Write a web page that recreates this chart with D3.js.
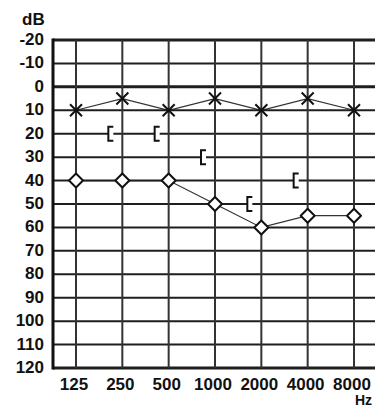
<!DOCTYPE html>
<html>
<head>
    <meta charset="utf-8"/>
    <title>Audiogram</title>
    <style>
        body {
            margin: 0;
            background-color: #fff;
            overflow: hidden;
        }
        svg {
            display: block;
        }
        .lbl {
            font-family: 'Liberation Sans', Arial, sans-serif;
            font-weight: bold;
            font-size: 17px;
            fill: #111;
        }
    </style>
    <script src="https://cdnjs.cloudflare.com/ajax/libs/d3/7.8.5/d3.min.js"></script>
</head>
<body>
    <svg id="viz" width="375" height="409"></svg>
<script>

const frequencies = [125, 250, 500, 1000, 2000, 4000, 8000];
const dbTicks = [-20, -10, 0, 10, 20, 30, 40, 50, 60, 70, 80, 90, 100, 110, 120];

// air conduction (X) and (O), bone conduction ([)
const airX = [10, 5, 10, 5, 10, 5, 10];
const airO = [40, 40, 40, 50, 60, 55, 55];
const boneFreqs = [250, 500, 1000, 2000, 4000];
const boneVals = [20, 20, 30, 50, 40];

const svg = d3.select("svg");

const x = d3.scaleLog().base(2).domain([125, 8000]).range([76, 354]);
const y = d3.scaleLinear().domain([-20, 120]).range([40, 368]);

const left = Math.round(x(125 / Math.SQRT2)),
      right = 380;

// axis labels
const labels = svg.append("g").attr("class", "labels");

labels.selectAll("text.ylab")
    .data(dbTicks)
    .join("text")
    .attr("class", "lbl ylab")
    .attr("x", 44)
    .attr("y", d => y(d) + 5)
    .attr("text-anchor", "end")
    .text(d => d < 0 ? "-" + Math.abs(d) : d);

labels.selectAll("text.xlab")
    .data(frequencies)
    .join("text")
    .attr("class", "lbl xlab")
    .attr("x", d => x(d) - 2)
    .attr("y", 390)
    .attr("text-anchor", "middle")
    .text(d => d);

labels.append("text").attr("class", "lbl").attr("x", 22).attr("y", 25).text("dB");
labels.append("text").attr("class", "lbl").attr("x", 355).attr("y", 405)
    .style("font-size", "14px").text("Hz");

// connecting lines
const line = d3.line().x(d => x(d[0])).y(d => y(d[1]));
const conn = svg.append("g").attr("fill", "none").attr("stroke", "#333").attr("stroke-width", 1.2);

conn.append("path").attr("d", line(frequencies.map((f, i) => [f, airX[i]])));
conn.append("path").attr("d", line(frequencies.map((f, i) => [f, airO[i]])));

// grid
const grid = svg.append("g").attr("class", "grid");

grid.selectAll("line.hgrid")
    .data(dbTicks)
    .join("line")
    .attr("class", "hgrid")
    .attr("x1", left).attr("x2", right)
    .attr("y1", d => y(d)).attr("y2", d => y(d))
    .attr("stroke", "#1e1e1e")
    .attr("stroke-width", d => (d == 0 || d == -20 || d == 120) ? 3 : 2);

grid.selectAll("line.vgrid")
    .data(frequencies)
    .join("line")
    .attr("class", "vgrid")
    .attr("x1", d => x(d)).attr("x2", d => x(d))
    .attr("y1", y(-20)).attr("y2", y(120))
    .attr("stroke", "#333")
    .attr("stroke-width", 2);

grid.append("line")
    .attr("x1", left).attr("x2", left)
    .attr("y1", y(-20) - 1.5).attr("y2", y(120) + 1.5)
    .attr("stroke", "#111")
    .attr("stroke-width", 3);

// X markers
svg.append("g").selectAll("path")
    .data(frequencies.map((f, i) => [f, airX[i]]))
    .join("path")
    .attr("transform", d => `translate(${x(d[0])},${y(d[1])})`)
    .attr("d", "M-6,-6L6,6M-6,6L6,-6")
    .attr("fill", "none")
    .attr("stroke", "#111")
    .attr("stroke-width", 2);

// O markers
svg.append("g").selectAll("path")
    .data(frequencies.map((f, i) => [f, airO[i]]))
    .join("path")
    .attr("transform", d => `translate(${x(d[0])},${y(d[1])})`)
    .attr("d", "M0,-7L7,0L0,7L-7,0Z")
    .attr("fill", "#fff")
    .attr("stroke", "#111")
    .attr("stroke-width", 2)
    .attr("stroke-linejoin", "round");

// bone brackets
svg.append("g").selectAll("path")
    .data(boneFreqs.map((f, i) => [f, boneVals[i]]))
    .join("path")
    .attr("transform", d => `translate(${x(d[0])},${y(d[1])})`)
    .attr("d", "M-9,-7H-14V7H-9")
    .attr("fill", "#fff")
    .attr("stroke", "#111")
    .attr("stroke-width", 2);

</script>
</body>
</html>
